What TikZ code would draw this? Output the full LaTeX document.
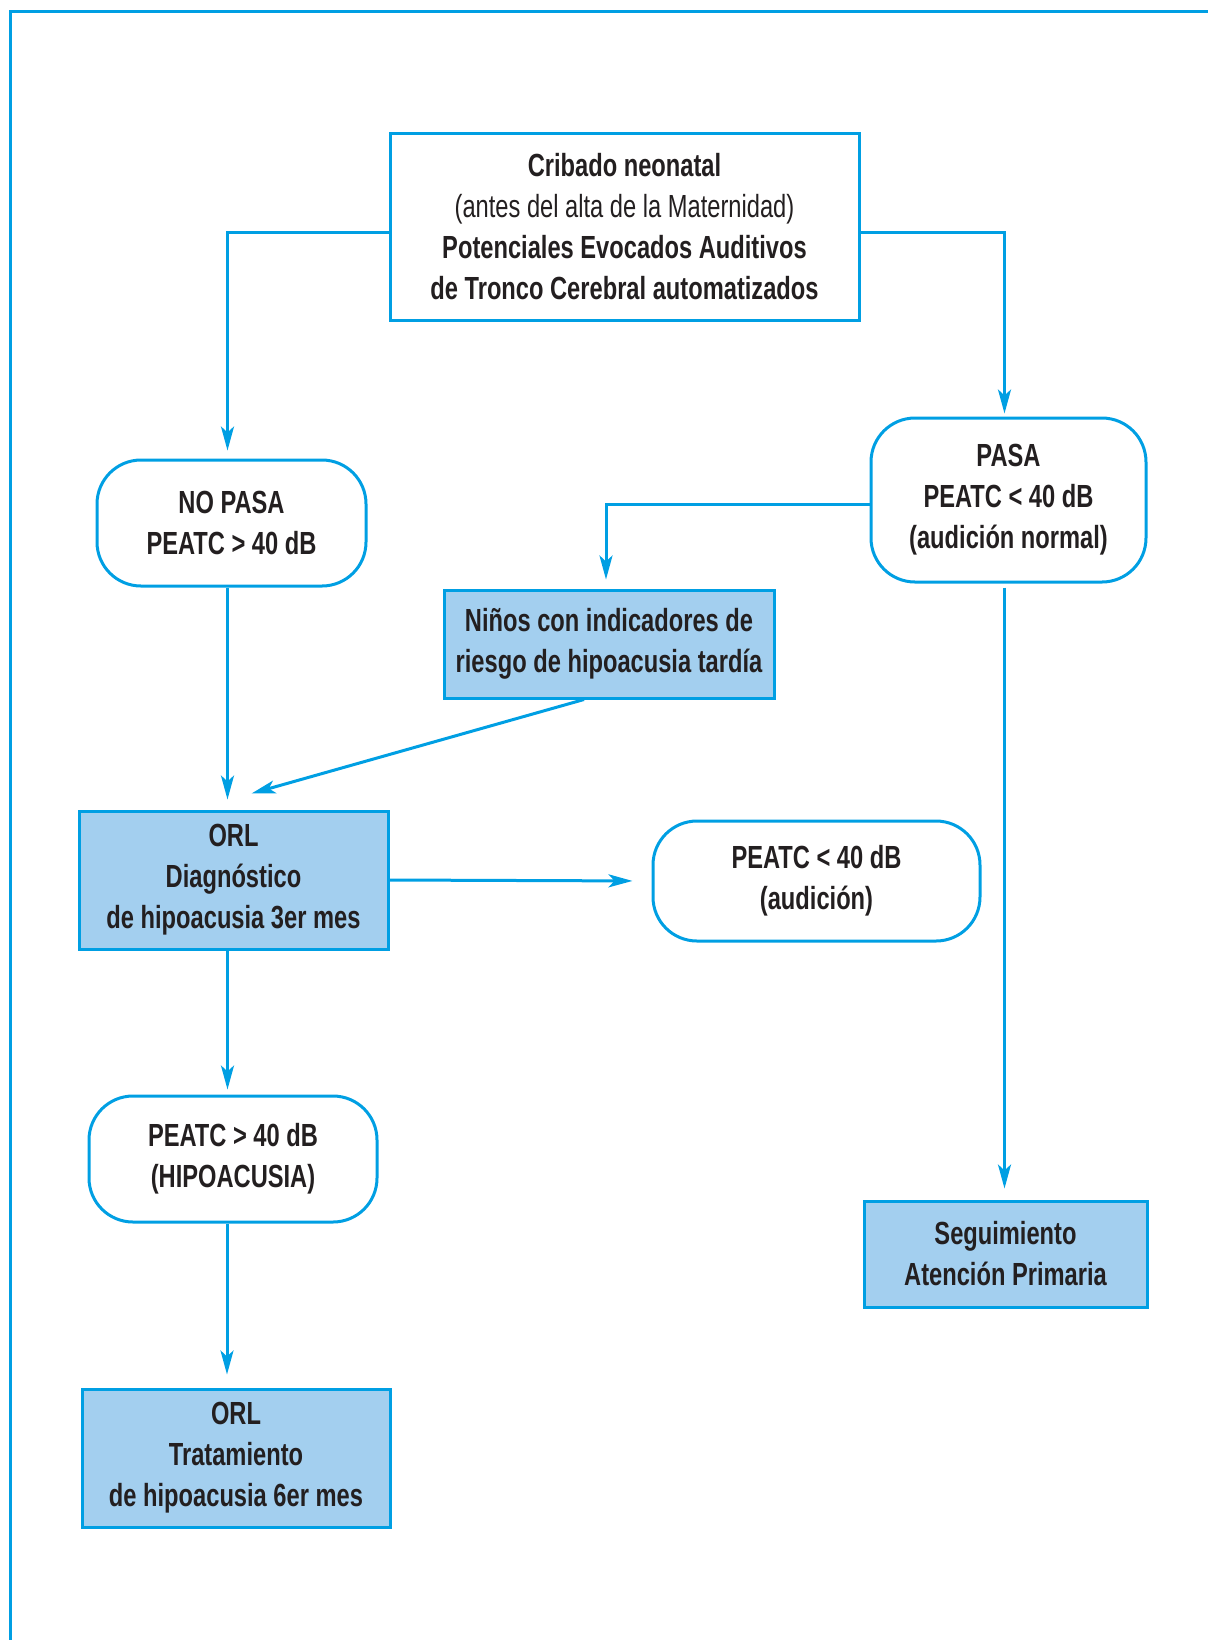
\documentclass[tikz,border=0pt]{standalone}
\usepackage{fontspec}
\setmainfont{Liberation Sans}[FakeStretch=0.74]
\usepackage{tikz}
\usepackage{xcolor}
\usetikzlibrary{positioning,shapes,arrows.meta}
\definecolor{azul}{RGB}{0,159,227}
\definecolor{celeste}{RGB}{163,207,239}
\definecolor{texto}{RGB}{35,31,32}

\begin{document}
\begin{tikzpicture}[x=0.5pt,y=-0.5pt]%[scale=2.5]
\useasboundingbox (0,0) rectangle (1208,1640);
\draw[azul,line width=1.5pt] (10,1640) -- (10,11) -- (1208,11);
\tikzstyle{every node}=[draw=azul,line width=1.5pt,align=center,text=texto,inner sep=0pt,
  font=\fontsize{16}{20.5}\selectfont\bfseries];
\tikzstyle{caja}=[rectangle]
\tikzstyle{azulcaja}=[rectangle,fill=celeste]
\tikzstyle{redonda}=[rectangle,rounded corners=22pt]
\tikzstyle{flecha}=[azul,line width=1.5pt,-{Stealth[length=12pt,width=6.5pt,inset=3pt]}]

\node[caja,minimum width=234.5pt,minimum height=93.5pt] (cribado) at (624.5,227)
  {Cribado neonatal\\{\mdseries (antes del alta de la Maternidad)}\\Potenciales Evocados Auditivos\\de Tronco Cerebral automatizados};
\node[redonda,minimum width=134.5pt,minimum height=63pt] (nopasa) at (231.5,523) {NO PASA\\PEATC > 40 dB};
\node[redonda,minimum width=137.5pt,minimum height=82pt] (pasa) at (1008.5,500) {PASA\\PEATC < 40 dB\\(audición normal)};
\node[azulcaja,minimum width=165pt,minimum height=54pt] (ninos) at (609,644) {Niños con indicadores de\\riesgo de hipoacusia tardía};
\node[azulcaja,minimum width=154.5pt,minimum height=69pt] (orldiag) at (233.5,880) {ORL\\Diagnóstico\\de hipoacusia 3er mes};
\node[redonda,minimum width=163.5pt,minimum height=60pt] (audicion) at (816.5,881) {PEATC < 40 dB\\(audición)};
\node[redonda,minimum width=144pt,minimum height=63pt] (hipo) at (233,1159) {PEATC > 40 dB\\(HIPOACUSIA)};
\node[azulcaja,minimum width=154pt,minimum height=69pt] (orltrat) at (236,1458) {ORL\\Tratamiento\\de hipoacusia 6er mes};
\node[azulcaja,minimum width=141.5pt,minimum height=53pt] (seguim) at (1005.5,1254) {Seguimiento\\Atención Primaria};

\draw[flecha,shorten >=4pt] ([yshift=-2.5pt]cribado.west) -| ([xshift=-2pt]nopasa.north);
\draw[flecha,shorten >=1.5pt] ([yshift=-2.5pt]cribado.east) -| ([xshift=-2pt]pasa.north);
\draw[flecha,shorten >=4.5pt] ([yshift=-2pt]pasa.west) -| ([xshift=-1.5pt]ninos.north);
\draw[flecha,shorten >=5pt] ([xshift=-2pt]nopasa.south) -- ([xshift=-2pt]nopasa.south |- orldiag.north);
\draw[flecha] ([xshift=-12.5pt]ninos.south) -- ([xshift=9pt,yshift=8pt]orldiag.north);
\draw[flecha,shorten >=9.5pt] (orldiag.east) -- (audicion.west);
\draw[flecha,shorten >=2.5pt] ([xshift=-3pt]orldiag.south) -- ([xshift=-3pt]orldiag.south |- hipo.north);
\draw[flecha,shorten >=6.5pt] ([xshift=-3pt]hipo.south) -- ([xshift=-3pt]hipo.south |- orltrat.north);
\draw[flecha,shorten <=2pt,shorten >=5.5pt] ([xshift=-2pt]pasa.south) -- ([xshift=-2pt]pasa.south |- seguim.north);
\end{tikzpicture}
\end{document}
